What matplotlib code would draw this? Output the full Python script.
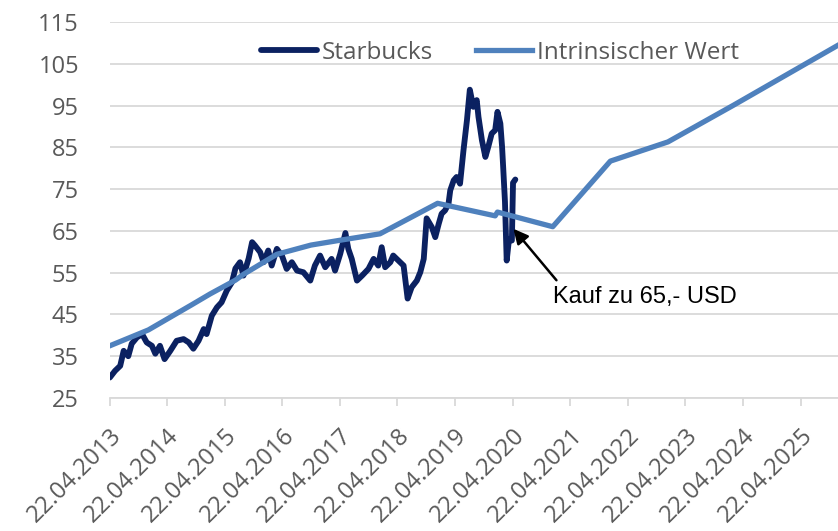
import matplotlib
matplotlib.use('Agg')
import matplotlib.pyplot as plt

# ---- data ----
sbux_year = [2013.31, 2013.40, 2013.49, 2013.55, 2013.63, 2013.69, 2013.78, 2013.87, 2013.95,
             2014.04, 2014.10, 2014.18, 2014.26, 2014.36, 2014.47, 2014.59, 2014.68, 2014.76,
             2014.85, 2014.94, 2014.99, 2015.08, 2015.17, 2015.25, 2015.34, 2015.43, 2015.49,
             2015.57, 2015.63, 2015.72, 2015.78, 2015.83, 2015.92, 2015.98, 2016.06, 2016.12,
             2016.21, 2016.30, 2016.38, 2016.47, 2016.56, 2016.67, 2016.79, 2016.87, 2016.96,
             2017.05, 2017.16, 2017.22, 2017.31, 2017.40, 2017.45, 2017.51, 2017.60, 2017.69,
             2017.80, 2017.89, 2017.97, 2018.03, 2018.09, 2018.18, 2018.23, 2018.32, 2018.41,
             2018.48, 2018.55, 2018.64, 2018.70, 2018.76, 2018.81, 2018.90, 2018.96, 2019.02,
             2019.07, 2019.13, 2019.19, 2019.22, 2019.28, 2019.33, 2019.39, 2019.42, 2019.45,
             2019.51, 2019.56, 2019.62, 2019.68, 2019.71, 2019.77, 2019.83, 2019.88, 2019.94,
             2020.00, 2020.04, 2020.09, 2020.12, 2020.14, 2020.17, 2020.20, 2020.24, 2020.29,
             2020.31, 2020.35]
sbux_value = [29.9, 31.5, 32.7, 36.3, 35.0, 38.0, 39.5, 40.3, 38.3,
              37.5, 35.6, 37.5, 34.3, 36.3, 38.7, 39.1, 38.3, 36.8,
              38.7, 41.5, 40.3, 44.7, 46.7, 47.9, 50.7, 52.7, 56.0,
              57.5, 54.3, 58.4, 62.3, 61.5, 59.9, 57.5, 60.3, 56.7,
              60.7, 59.0, 55.9, 57.5, 55.5, 55.1, 53.1, 56.7, 59.1,
              56.3, 58.3, 55.5, 59.5, 64.5, 60.7, 58.3, 53.1, 54.3,
              55.9, 58.3, 56.7, 61.1, 56.3, 57.5, 59.1, 57.9, 56.7,
              48.8, 51.5, 53.1, 55.1, 58.3, 68.0, 65.9, 63.5, 66.7,
              69.1, 69.9, 71.5, 74.7, 77.1, 77.9, 76.3, 80.3, 84.3,
              91.5, 98.8, 94.7, 96.3, 92.3, 86.7, 82.7, 85.1, 88.3,
              89.1, 93.5, 90.7, 85.1, 80.0, 72.0, 57.9, 63.0, 62.7,
              76.5, 77.3]

iv_year = [2013.31, 2013.98, 2014.73, 2015.05, 2015.49, 2015.63, 2016.21, 2016.80,
           2017.28, 2018.00, 2019.00, 2020.00, 2020.04, 2021.00, 2022.00, 2023.00,
           2024.14, 2025.96]
iv_value = [37.5, 41.3, 47.3, 49.9, 53.2, 54.6, 59.4, 61.6,
            62.7, 64.3, 71.6, 68.6, 69.5, 66.0, 81.7, 86.3,
            95.1, 109.5]

tick_years = list(range(2013, 2026))
tick_labels = [f'22.04.{y}' for y in tick_years]
y_ticks = list(range(25, 116, 10))

series_names = ['Starbucks', 'Intrinsischer Wert']
annot_text = 'Kauf zu 65,- USD'
annot_target = (2020.317, 65.5)
annot_text_pos = (2021.0, 47.8)

# ---- style ----
plt.rcParams['font.family'] = ['Open Sans', 'DejaVu Sans']
GRID = '#D9D9D9'
LABEL = '#595959'

W, H = 838, 531
fig = plt.figure(figsize=(W / 100, H / 100), dpi=100)
left_px, right_px, top_px, bottom_px = 109.5, 838, 22, 398
ax = fig.add_axes([left_px / W, 1 - bottom_px / H, (right_px - left_px) / W, (bottom_px - top_px) / H])

ax.plot(sbux_year, sbux_value, color='#0B2161', lw=4.2, solid_joinstyle='round',
        solid_capstyle='round', label=series_names[0], zorder=3)
ax.plot(iv_year, iv_value, color='#4F81BD', lw=3.8, solid_joinstyle='round',
        label=series_names[1], zorder=4)

off = 111 / 365
ax.set_xlim(2013 + off, 2013 + off + 12.648)
ax.set_ylim(25, 115)
ax.set_xticks([y + off for y in tick_years])
ax.set_xticklabels(tick_labels, rotation=45, ha='right', va='top', rotation_mode='anchor')
ax.set_yticks(y_ticks)
ax.grid(axis='y', color=GRID, lw=1.3)
ax.set_axisbelow(True)
for s in ['left', 'right', 'top']:
    ax.spines[s].set_visible(False)
ax.spines['bottom'].set_color(GRID)
ax.spines['bottom'].set_linewidth(1.3)
ax.tick_params(axis='x', length=5.5, width=1.3, color=GRID, pad=13, labelsize=17.3, labelcolor=LABEL)
ax.tick_params(axis='y', length=0, pad=22, labelsize=17, labelcolor=LABEL)

ax.annotate(annot_text, xy=annot_target, xytext=annot_text_pos,
            ha='left', va='baseline', fontsize=17, color='black',
            family=['Liberation Sans', 'DejaVu Sans'],
            arrowprops=dict(arrowstyle='-|>', color='black', lw=1.8,
                            mutation_scale=22, shrinkA=0, shrinkB=0,
                            relpos=(0.02, 1.25)),
            zorder=6)

fig.legend(loc='center', bbox_to_anchor=(500 / W, 1 - 53 / H), ncol=2, frameon=False,
           fontsize=17.5, labelcolor=LABEL, handlelength=2.3, handletextpad=0.2,
           columnspacing=1.75, borderpad=0)

fig.savefig('out.png', dpi=100)
